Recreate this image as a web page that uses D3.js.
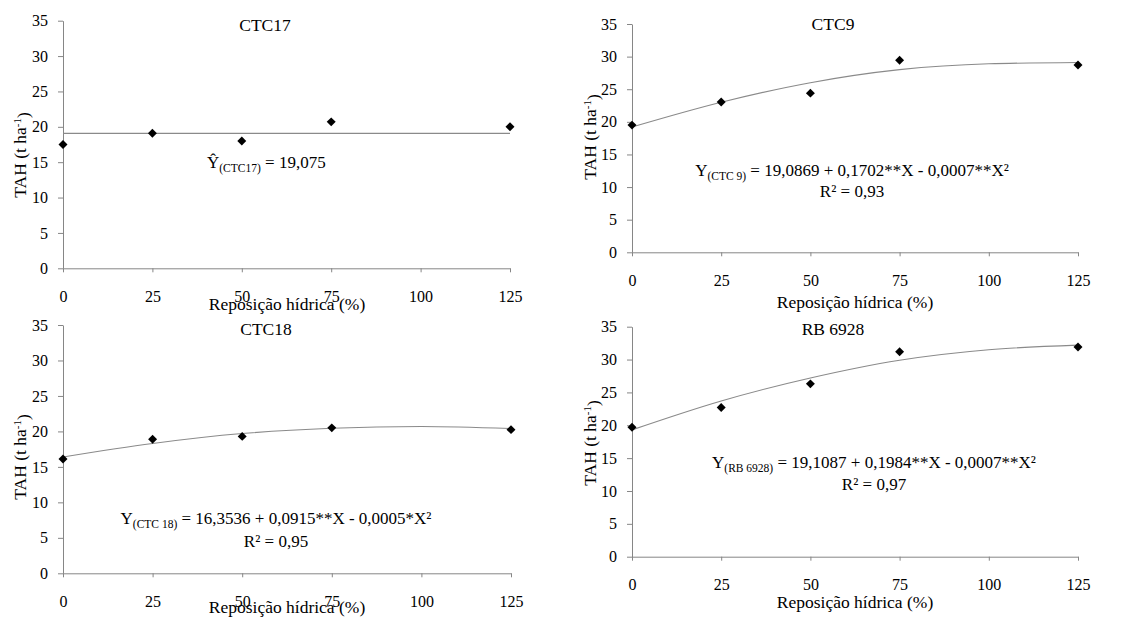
<!DOCTYPE html>
<html>
<head>
<meta charset="utf-8">
<script src="https://cdn.jsdelivr.net/npm/d3@7"></script>
<style>
  html, body { margin: 0; padding: 0; background: #fff; }
  svg, svg text { font-family: "Times New Roman", Tinos, "Liberation Serif", "DejaVu Serif", serif !important; }
</style>
</head>
<body>
<svg id="chart" width="1138" height="617"></svg>
<script>
// ---------- DATA ----------
const xTicks = [0, 25, 50, 75, 100, 125];
const yTicks = [0, 5, 10, 15, 20, 25, 30, 35];
const doses = [0, 25, 50, 75, 125];

const titles = ["CTC17", "CTC9", "CTC18", "RB 6928"];

const tahCTC17 = [17.5, 19.1, 18.0, 20.7, 20.0];
const tahCTC9 = [19.5, 23.05, 24.4, 29.45, 28.7];
const tahCTC18 = [16.1, 18.9, 19.3, 20.5, 20.25];
const tahRB6928 = [19.7, 22.7, 26.3, 31.2, 31.9];

// fitted-curve values at the x tick positions
const fitCTC17 = [19.075, 19.075, 19.075, 19.075, 19.075, 19.075];
const fitCTC9 = [19.2, 23.0, 26.0, 28.0, 28.9, 29.1];
const fitCTC18 = [16.4, 18.3, 19.7, 20.45, 20.7, 20.4];
const fitRB6928 = [19.3, 23.7, 27.2, 29.9, 31.5, 32.2];

const eqCTC17 = [{main: "Ŷ", sub: "(CTC17)", rest: " = 19,075"}];
const eqCTC9 = [{main: "Y", sub: "(CTC 9)", rest: " = 19,0869 + 0,1702**X - 0,0007**X²"}, {main: "R² = 0,93", sub: "", rest: ""}];
const eqCTC18 = [{main: "Y", sub: "(CTC 18)", rest: " = 16,3536 + 0,0915**X - 0,0005*X²"}, {main: "R² = 0,95", sub: "", rest: ""}];
const eqRB6928 = [{main: "Y", sub: "(RB 6928)", rest: " = 19,1087 + 0,1984**X - 0,0007**X²"}, {main: "R² = 0,97", sub: "", rest: ""}];

const xTitle = "Reposição hídrica (%)";

// ---------- LAYOUT ----------
const panels = [
  {title: titles[0], pts: tahCTC17, fit: fitCTC17, eq: eqCTC17,
   x0: 63, x1: 510, yb: 268.3, yt: 20.7, titleX: 265, titleY: 31,
   ylabX: 20, ylabY: 155, xtX: 287, xtY: 310,
   eqX: 207, eqY: 168, eqAnchor: "start", eqLineGap: 22},
  {title: titles[1], pts: tahCTC9, fit: fitCTC9, eq: eqCTC9,
   x0: 632, x1: 1078, yb: 252.3, yt: 24, titleX: 833, titleY: 30,
   ylabX: 590, ylabY: 137, xtX: 855, xtY: 308,
   eqX: 852, eqY: 176, eqAnchor: "middle", eqLineGap: 21},
  {title: titles[2], pts: tahCTC18, fit: fitCTC18, eq: eqCTC18,
   x0: 63, x1: 511, yb: 573.3, yt: 325, titleX: 266, titleY: 335,
   ylabX: 20, ylabY: 457, xtX: 287, xtY: 613,
   eqX: 276, eqY: 524, eqAnchor: "middle", eqLineGap: 23},
  {title: titles[3], pts: tahRB6928, fit: fitRB6928, eq: eqRB6928,
   x0: 632, x1: 1078, yb: 556.7, yt: 326.7, titleX: 833, titleY: 335,
   ylabX: 590, ylabY: 443, xtX: 855, xtY: 608,
   eqX: 874, eqY: 468, eqAnchor: "middle", eqLineGap: 22}
];

const axisColor = "#868686";
const FONT = "'Times New Roman', Tinos, 'Liberation Serif', 'DejaVu Serif', serif";
const svg = d3.select("#chart");

panels.forEach(p => {
  const x = d3.scaleLinear().domain([0, 125]).range([p.x0, p.x1]);
  const y = d3.scaleLinear().domain([0, 35]).range([p.yb, p.yt]);
  const g = svg.append("g").attr("font-family", FONT);

  // y axis
  const ya = g.append("g").attr("transform", `translate(${p.x0},0)`)
    .call(d3.axisLeft(y).tickValues(yTicks).tickSize(5).tickSizeOuter(0).tickPadding(10));
  // x axis
  const xa = g.append("g").attr("transform", `translate(0,${p.yb})`)
    .call(d3.axisBottom(x).tickValues(xTicks).tickSize(4).tickSizeOuter(0).tickPadding(18));
  [ya, xa].forEach(a => {
    a.attr("font-family", FONT);
    a.select(".domain").attr("stroke", axisColor).attr("stroke-width", 1);
    a.selectAll(".tick line").attr("stroke", axisColor);
    a.selectAll(".tick text").attr("fill", "#000").style("font-size", "16px");
  });

  // fitted curve
  const line = d3.line().x((d, i) => x(xTicks[i])).y(d => y(d)).curve(d3.curveMonotoneX);
  g.append("path").datum(p.fit).attr("d", line)
    .attr("fill", "none").attr("stroke", "#8a8a8a").attr("stroke-width", 1.1);

  // points
  const sym = d3.symbol().type(d3.symbolSquare).size(40);
  g.selectAll("path.pt").data(p.pts).enter().append("path").attr("class", "pt")
    .attr("d", sym)
    .attr("transform", (d, i) => `translate(${x(doses[i])},${y(d)}) rotate(45)`)
    .attr("fill", "#000");

  // title
  g.append("text").attr("x", p.titleX).attr("y", p.titleY).attr("text-anchor", "middle")
    .style("font-size", "17.5px").text(p.title);

  // x title
  g.append("text").attr("x", p.xtX).attr("y", p.xtY).attr("text-anchor", "middle")
    .style("font-size", "17.5px").text(xTitle);

  // y title
  const yl = g.append("text")
    .attr("transform", `translate(${p.ylabX},${p.ylabY}) rotate(-90)`)
    .attr("text-anchor", "middle").attr("dy", "0.35em")
    .style("font-size", "17.5px");
  yl.append("tspan").text("TAH (t ha");
  yl.append("tspan").attr("dy", "-0.45em").style("font-size", "11px").text("-1");
  yl.append("tspan").attr("dy", "0.45em").text(")");

  // equations
  p.eq.forEach((ln, i) => {
    const t = g.append("text").attr("x", p.eqX).attr("y", p.eqY + i * p.eqLineGap)
      .attr("text-anchor", p.eqAnchor).style("font-size", "17px");
    t.append("tspan").text(ln.main);
    if (ln.sub) {
      t.append("tspan").attr("dy", "4").style("font-size", "11.5px").text(ln.sub);
      t.append("tspan").attr("dy", "-4").text(ln.rest);
    }
  });
});
</script>
</body>
</html>
